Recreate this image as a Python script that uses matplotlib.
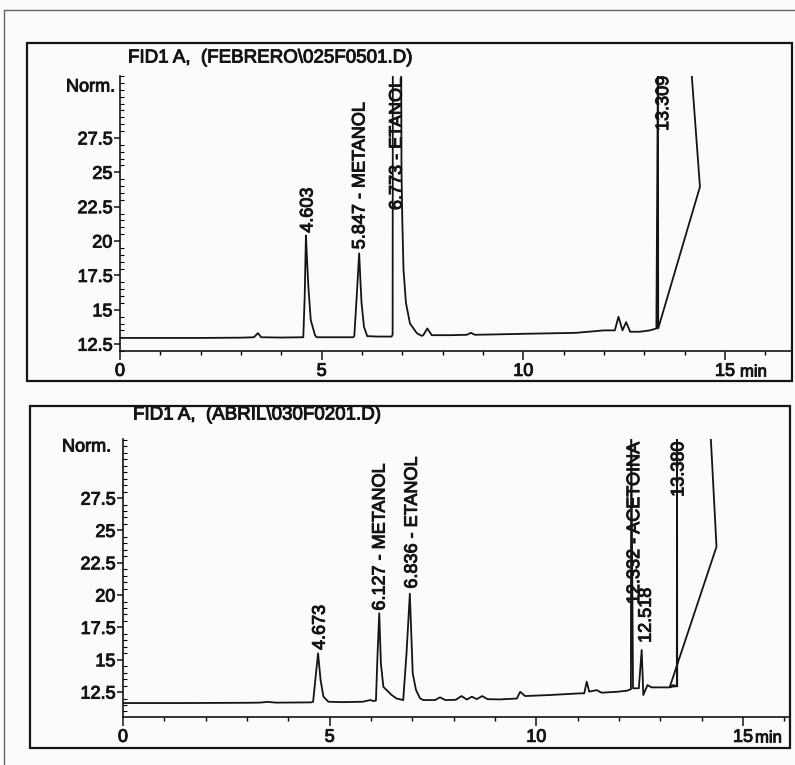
import matplotlib
matplotlib.use("Agg")
import matplotlib.pyplot as plt
import matplotlib.patheffects as pe
from matplotlib.patches import Rectangle
from matplotlib.lines import Line2D
from matplotlib.ticker import MultipleLocator, FixedLocator

plt.rcParams['font.family'] = ['Liberation Sans', 'DejaVu Sans']
INK = "#141414"
BOLDEN = [pe.withStroke(linewidth=0.7, foreground=INK)]

# ---------------- data ----------------
title_top = "FID1 A,  (FEBRERO\\025F0501.D)"
title_bot = "FID1 A,  (ABRIL\\030F0201.D)"

t_top = [0, 1.0, 2.0, 3.0, 3.32, 3.42, 3.5, 4.0, 4.545, 4.58, 4.61, 4.64, 4.67, 4.73,
         4.835, 4.875, 5.3, 5.78, 5.81, 5.87, 5.93, 5.96, 5.99, 6.05, 6.13, 6.4, 6.735,
         6.76, 6.765, 6.97, 6.98, 7.0, 7.03, 7.09, 7.19, 7.36, 7.48, 7.52, 7.62, 7.73,
         8.2, 8.6, 8.7, 8.8, 9.2, 10.0, 11.3, 12.0, 12.27, 12.36, 12.46, 12.55, 12.65,
         12.89, 13.14, 13.3, 13.34, 13.345, 14.38, 14.14]
s_top = [12.95, 12.95, 12.95, 12.97, 13.0, 13.3, 13.0, 12.98, 13.0, 16.0,
         20.4, 18.5, 16.7, 14.25, 13.15, 13.0, 13.0, 13.0, 13.1, 16.0,
         19.1, 17.2, 15.46, 13.76, 13.08, 13.05, 13.05, 13.2, 34, 34,
         25, 21.5, 17.9, 15.5, 14.0, 13.3, 13.1, 13.15, 13.64, 13.15,
         13.15, 13.18, 13.32, 13.18, 13.2, 13.25, 13.32, 13.5, 13.5, 14.49,
         13.5, 14.1, 13.4, 13.4, 13.5, 13.64, 34, 13.64, 23.94, 33.5]

t_bot = [0, 1.5, 3.0, 3.3, 3.5, 3.7, 4.55, 4.6, 4.67, 4.72, 4.78, 4.85, 4.97, 5.3, 5.8,
         5.98, 6.08, 6.12, 6.16, 6.2, 6.24, 6.3, 6.38, 6.5, 6.62, 6.78, 6.86, 6.94, 7.01,
         7.09, 7.19, 7.27, 7.55, 7.67, 7.8, 8.05, 8.19, 8.32, 8.44, 8.56, 8.69, 8.82,
         9.12, 9.53, 9.61, 9.73, 10.33, 11.06, 11.16, 11.22, 11.28, 11.46, 11.58, 11.95,
         12.19, 12.27, 12.29, 12.295, 12.34, 12.48, 12.55, 12.59, 12.69, 12.79, 12.99,
         13.23, 13.31, 13.4, 13.405, 13.41, 13.23, 14.36, 14.2]
s_bot = [11.65, 11.65, 11.67, 11.68, 11.74, 11.68, 11.7, 11.75, 13.97, 15.5,
         13.43, 12.14, 11.75, 11.72, 11.75, 11.88, 11.8, 11.85, 15.5, 18.6,
         14.7, 12.9, 12.65, 12.27, 12.0, 11.88, 15.5, 20.1, 13.94, 12.65,
         12.0, 11.88, 11.88, 12.09, 11.88, 11.9, 12.19, 11.92, 12.14, 11.95,
         12.19, 11.95, 11.93, 12.0, 12.52, 12.19, 12.27, 12.4, 12.4, 13.3,
         12.53, 12.65, 12.45, 12.52, 12.6, 12.7, 12.72, 34, 12.79, 12.79,
         15.75, 12.27, 13.04, 12.86, 12.86, 12.86, 13.04, 12.95, 34, 12.95,
         12.9, 23.74, 33.5]

top_labels = ["4.603", "5.847 - METANOL", "6.773 - ETANOL", "13.309"]
top_label_x = [4.66, 5.95, 6.87, 13.48]
top_label_y = [20.6, 19.4, 22.25, 28.0]

bot_labels = ["4.673", "6.127 - METANOL", "6.836 - ETANOL", "12.332 - ACETOINA", "12.518", "13.380"]
bot_label_x = [4.77, 6.22, 7.0, 12.38, 12.66, 13.45]
bot_label_y = [15.75, 18.8, 20.5, 19.3, 16.3, 27.6]

x_major = [0, 5, 10, 15]
y_major = [12.5, 15, 17.5, 20, 22.5, 25, 27.5]
y_major_labels = ["12.5", "15", "17.5", "20", "22.5", "25", "27.5"]

# ---------------- figure ----------------
W, H = 795, 765
fig = plt.figure(figsize=(W / 100, H / 100), dpi=100)
fig.patch.set_facecolor("#fbfbfb")

def fx(px):
    return px / W

def fy(py):
    return 1 - py / H

# page border of the scan
fig.add_artist(Line2D([fx(5), fx(795)], [fy(10), fy(10)], color="#666666", lw=1.0))
fig.add_artist(Line2D([fx(4), fx(4)], [fy(10), fy(765)], color="#666666", lw=1.0))

# outer frames of each panel
fig.add_artist(Rectangle((fx(27), fy(381)), fx(792) - fx(27), fy(43) - fy(381),
                         fill=False, lw=1.6, ec=INK))
fig.add_artist(Rectangle((fx(30), fy(748)), fx(790) - fx(30), fy(406) - fy(748),
                         fill=False, lw=1.6, ec=INK))

def make_axes(rect, xlim, ylim):
    ax = fig.add_axes(rect)
    ax.set_facecolor("none")
    ax.set_xlim(*xlim)
    ax.set_ylim(*ylim)
    for s in ["top", "right"]:
        ax.spines[s].set_visible(False)
    for s in ["left", "bottom"]:
        ax.spines[s].set_linewidth(1.2)
        ax.spines[s].set_color(INK)
    ax.xaxis.set_major_locator(FixedLocator(x_major))
    ax.xaxis.set_minor_locator(MultipleLocator(1))
    ax.yaxis.set_major_locator(FixedLocator(y_major))
    ax.set_yticklabels(y_major_labels)
    ax.yaxis.set_minor_locator(MultipleLocator(0.5))
    ax.tick_params(axis="x", which="major", direction="out", length=6.5, width=1.1,
                   pad=2.0, labelsize=13, colors=INK)
    ax.tick_params(axis="x", which="minor", direction="out", length=2.8, width=1.0)
    ax.tick_params(axis="y", which="major", direction="out", length=4.5, width=1.1,
                   pad=1.0, labelsize=13, colors=INK)
    ax.tick_params(axis="y", which="minor", direction="in", length=3.0, width=0.8)
    for lab in ax.get_xticklabels() + ax.get_yticklabels():
        lab.set_path_effects(BOLDEN)
    return ax

# top axes: x=0 at px 120, 40.33 px/min ; y 12.5 at px 344, 13.75 px/unit
ax1 = make_axes([fx(120), fy(351), fx(792) - fx(120), fy(76) - fy(351)],
                (0, (792 - 120) / 40.33), (12.0, 32.0))
ax1.plot(t_top, s_top, color=INK, lw=1.3)
for lab, x, y in zip(top_labels, top_label_x, top_label_y):
    ax1.text(x, y, lab, rotation=90, ha="center", va="bottom", fontsize=13,
             color=INK, clip_on=True, path_effects=BOLDEN)

# bottom axes: x=0 at px 123, 41.33 px/min ; y 12.5 at px 692, 12.93 px/unit
ax2 = make_axes([fx(123), fy(717), fx(790) - fx(123), fy(439) - fy(717)],
                (0, (790 - 123) / 41.33), (10.57, 32.07))
ax2.plot(t_bot, s_bot, color=INK, lw=1.3)
for lab, x, y in zip(bot_labels, bot_label_x, bot_label_y):
    ax2.text(x, y, lab, rotation=90, ha="center", va="bottom", fontsize=13,
             color=INK, clip_on=True, path_effects=BOLDEN)

# titles, axis captions
txt_kw = dict(color=INK, path_effects=BOLDEN)
fig.text(fx(128), fy(58), title_top, ha="left", va="center", fontsize=13.5, **txt_kw)
fig.text(fx(133), fy(415), title_bot, ha="left", va="center", fontsize=13.5, **txt_kw)
fig.text(fx(115), fy(87), "Norm.", ha="right", va="center", fontsize=13, **txt_kw)
fig.text(fx(111), fy(447), "Norm.", ha="right", va="center", fontsize=13, **txt_kw)
fig.text(fx(740), fy(372), "min", ha="left", va="center", fontsize=12, **txt_kw)
fig.text(fx(755), fy(738), "min", ha="left", va="center", fontsize=12, **txt_kw)

fig.savefig("out.png", dpi=100, facecolor=fig.get_facecolor())
